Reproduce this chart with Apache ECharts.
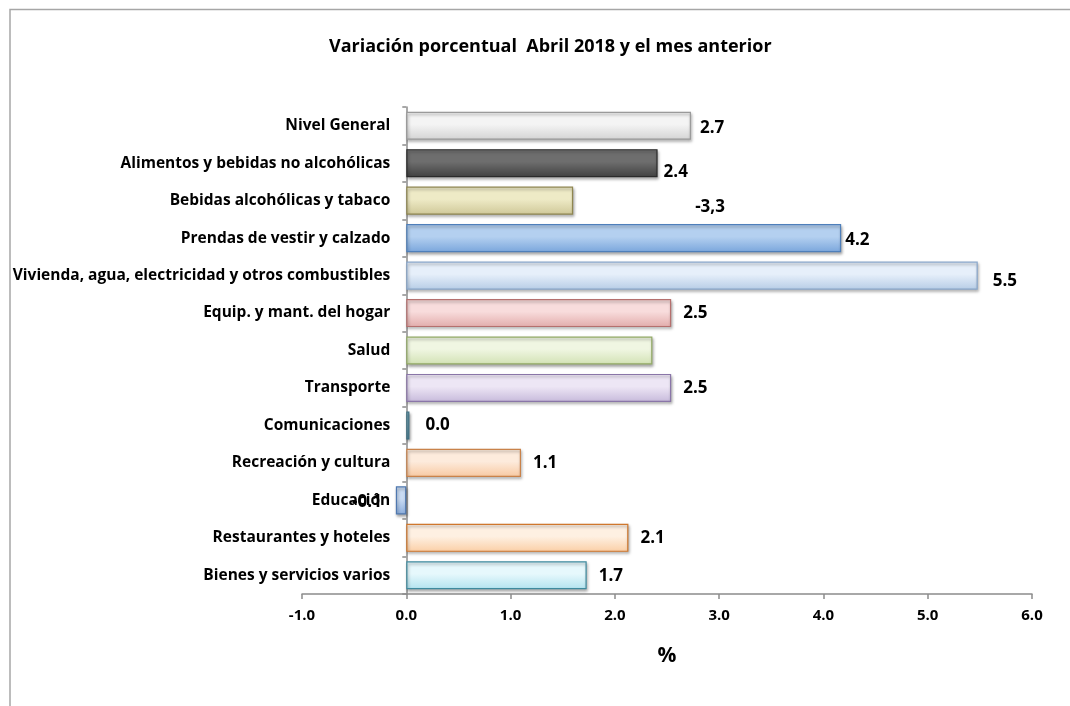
<!DOCTYPE html>
<html>
<head>
<meta charset="utf-8">
<script src="https://cdn.jsdelivr.net/npm/echarts@6/dist/echarts.min.js"></script>
<style>
  html, body { margin: 0; padding: 0; background: #fff; }
  #chart { width: 1070px; height: 706px; }
</style>
</head>
<body>
<div id="chart"></div>
<script>
// data
const categories = [
  'Nivel General',
  'Alimentos y bebidas no alcohólicas',
  'Bebidas alcohólicas y tabaco',
  'Prendas de vestir y calzado',
  'Vivienda, agua, electricidad y otros combustibles',
  'Equip. y mant. del hogar',
  'Salud',
  'Transporte',
  'Comunicaciones',
  'Recreación y cultura',
  'Educación',
  'Restaurantes y hoteles',
  'Bienes y servicios varios'
]
const values = [2.73, 2.41, 1.6, 4.17, 5.48, 2.54, 2.36, 2.54, 0.03, 1.1, -0.1, 2.13, 1.73]
// label text as printed in the chart (Salud has none)
const labelTexts = ['2.7', '2.4', '-3,3', '4.2', '5.5', '2.5', '', '2.5', '0.0', '1.1', '-0.1', '2.1', '1.7']
const xTicks = { min: -1, max: 6, interval: 1 }

// bar colours: [top, bottom, border]
const barColors = [
  ['#f4f4f4', '#d4d4d4', '#9a9a9a'],
  ['#6e6e6e', '#404040', '#2a2a2a'],
  ['#eeeac6', '#cfc898', '#8f8650'],
  ['#b4d0f0', '#7aa6dc', '#4f7fba'],
  ['#e6effa', '#b7cde6', '#8aa8cc'],
  ['#f8dcdc', '#e2acab', '#b5706e'],
  ['#f0f6e2', '#d2e2b4', '#93ab66'],
  ['#ede6f5', '#c7badb', '#8a76a8'],
  ['#8fb6c4', '#5b8ea0', '#3d6f82'],
  ['#fdebdc', '#f8c9a2', '#c9824a'],
  ['#c9dbf3', '#8caedd', '#4f78b0'],
  ['#fef0e2', '#fbcfa6', '#d0772c'],
  ['#e6f8fc', '#b2e3ef', '#3f8a9e']
]
// per-bar label nudges [dx, dy]
const labelNudge = [
  [-3, 2], [-6, 9], [110, 7], [-8, 2], [3, 6], [0, 0], [0, 0],
  [0, 0], [4, 0], [0, 0], [-2, 2], [0, 0], [0, 1]
]

const font = '"Open Sans", sans-serif'
const gridLeft = 302, gridRight = 38
const plotWidth = 1070 - gridLeft - gridRight
// shift the category axis so it sits on x = 0
const yAxisShift = -(0 - xTicks.min) * plotWidth / (xTicks.max - xTicks.min)

const chart = echarts.init(document.getElementById('chart'))

const seriesData = values.map((v, i) => ({
  value: v,
  itemStyle: {
    color: new echarts.graphic.LinearGradient(0, 0, 0, 1, [
      { offset: 0, color: barColors[i][0] },
      { offset: 0.45, color: barColors[i][0] },
      { offset: 1, color: barColors[i][1] }
    ]),
    borderColor: barColors[i][2],
    borderWidth: 1.2,
    shadowColor: 'rgba(0,0,0,0.35)',
    shadowBlur: 3,
    shadowOffsetX: 1,
    shadowOffsetY: 2
  },
  label: {
    show: labelTexts[i] !== '',
    position: v < 0 ? 'left' : 'right',
    offset: labelNudge[i],
    formatter: labelTexts[i]
  }
}))

const option = {
  animation: false,
  backgroundColor: '#fff',
  textStyle: { fontFamily: font },
  title: {
    text: 'Variación porcentual  Abril 2018 y el mes anterior',
    left: 324,
    top: 33,
    textStyle: { fontFamily: font, fontSize: 18, fontWeight: 'bold', color: '#000' }
  },
  graphic: [{
    type: 'polyline',
    shape: { points: [[10, 706], [10, 9.5], [1070, 9.5]] },
    style: { stroke: '#a6a6a6', lineWidth: 1.5, fill: null }
  }],
  grid: { left: gridLeft, right: gridRight, top: 107, bottom: 112, outerBoundsMode: 'none', containLabel: false },
  xAxis: {
    type: 'value',
    min: xTicks.min,
    max: xTicks.max,
    interval: xTicks.interval,
    name: '%',
    nameLocation: 'middle',
    nameGap: 52,
    nameTextStyle: { fontFamily: font, fontSize: 21, fontWeight: 'bold', color: '#000' },
    axisLine: { show: true, lineStyle: { color: '#8c8c8c', width: 1.5 } },
    axisTick: { show: true, length: 5, lineStyle: { color: '#8c8c8c', width: 1.5 } },
    axisLabel: {
      margin: 14,
      fontSize: 15,
      fontWeight: 'bold',
      fontFamily: font,
      color: '#000',
      formatter: v => v.toFixed(1)
    },
    splitLine: { show: false }
  },
  yAxis: {
    type: 'category',
    data: categories,
    inverse: true,
    offset: yAxisShift,
    axisLine: { show: true, onZero: false, lineStyle: { color: '#8c8c8c', width: 1.5 } },
    axisTick: { show: true, length: 4, lineStyle: { color: '#8c8c8c', width: 1.5 } },
    axisLabel: { margin: 16, fontSize: 15.5, fontWeight: 'bold', fontFamily: font, color: '#000' }
  },
  series: [{
    type: 'bar',
    data: seriesData,
    barCategoryGap: '25%',
    label: {
      distance: 12,
      fontSize: 17,
      fontWeight: 'bold',
      color: '#000',
      fontFamily: font
    }
  }]
}

chart.setOption(option)
</script>
</body>
</html>
